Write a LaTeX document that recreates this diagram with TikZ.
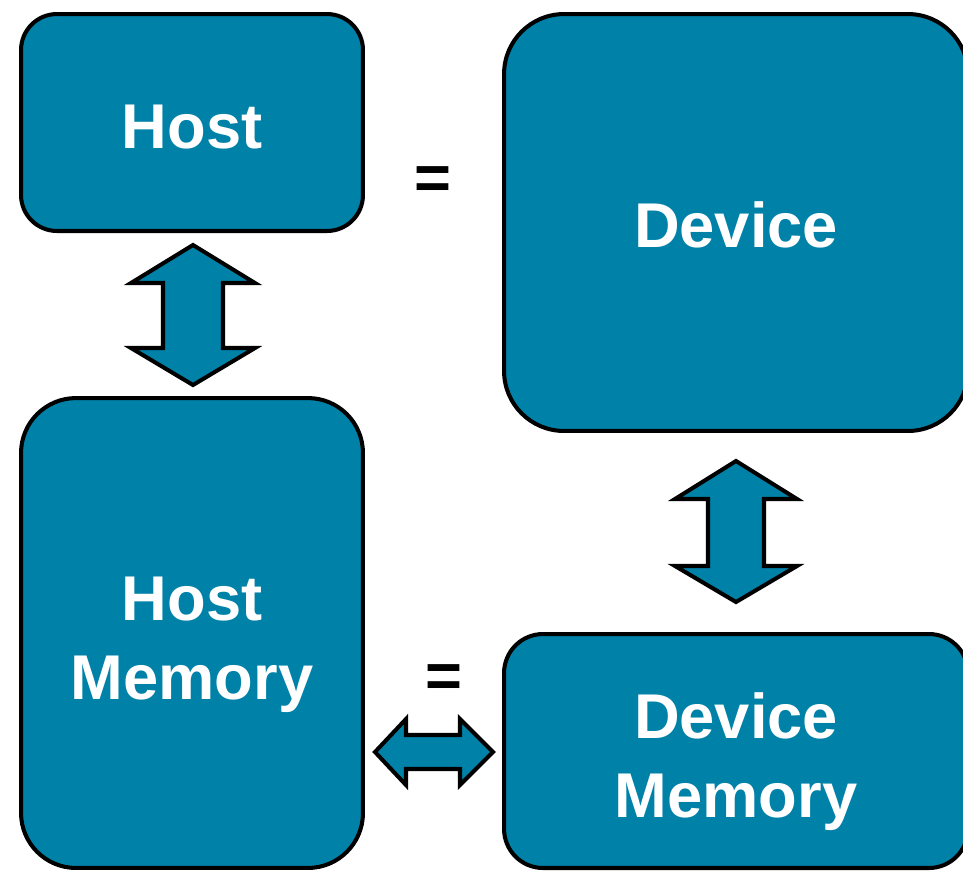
\documentclass[tikz,border=0pt]{standalone}
\usepackage{fontspec}
\setmainfont{Liberation Sans}
\definecolor{boxteal}{RGB}{0,130,168}
\tikzset{
  box/.style={draw=black, line width=2.3pt, fill=boxteal, inner sep=0pt},
  boxtext/.style={text=white, font=\bfseries\fontsize{36}{45}\selectfont, align=center, inner sep=0pt},
  blockarrow/.style={draw=black, line width=2.3pt, fill=boxteal, line join=miter},
  eqsign/.style={font=\bfseries\fontsize{36}{45}\selectfont, inner sep=0pt}
}
\begin{document}
\begin{tikzpicture}[x=0.02cm, y=-0.02cm]
  \useasboundingbox (0,0) rectangle (963,870);

  %% блоки
  \node[box, minimum width=6.84cm, minimum height=4.34cm, rounded corners=0.72cm] (host) at (192,122.5) {};
  \node[box, minimum width=9.28cm, minimum height=8.34cm, rounded corners=1.2cm] (device) at (736,222.5) {};
  \node[box, minimum width=6.84cm, minimum height=9.4cm, rounded corners=1.1cm] (hostmem) at (192,633) {};
  \node[box, minimum width=9.28cm, minimum height=4.68cm, rounded corners=0.78cm] (devmem) at (736,751) {};

  %% подписи
  \node[boxtext] (hostlabel) at ([yshift=-2.8pt]host.center) {Host};
  \node[boxtext] (devicelabel) at ([yshift=-1.5pt]device.center) {Device};
  \node[boxtext] (hostmemlabel) at ([yshift=-6.8pt]hostmem.center) {Host\\Memory};
  \node[boxtext] (devmemlabel) at ([yshift=-6.2pt]devmem.center) {Device\\Memory};

  \node[eqsign] (eqtop) at (433,183) {=};
  \node[eqsign] (eqbot) at (444,681) {=};

  %% стрелки
  \draw[blockarrow] (193,245) -- (255,283) -- (223,283) -- (223,348) -- (255,348)
    -- (193,385) -- (131,348) -- (163,348) -- (163,283) -- (131,283) -- cycle;
  \draw[blockarrow] (736,461) -- (797,499) -- (764,499) -- (764,566) -- (797,566)
    -- (736,602) -- (675,566) -- (708,566) -- (708,499) -- (675,499) -- cycle;
  \draw[blockarrow] (375,752) -- (406,719) -- (406,735) -- (460,735) -- (460,719)
    -- (493,752) -- (460,785) -- (460,769) -- (406,769) -- (406,785) -- cycle;
\end{tikzpicture}
\end{document}
